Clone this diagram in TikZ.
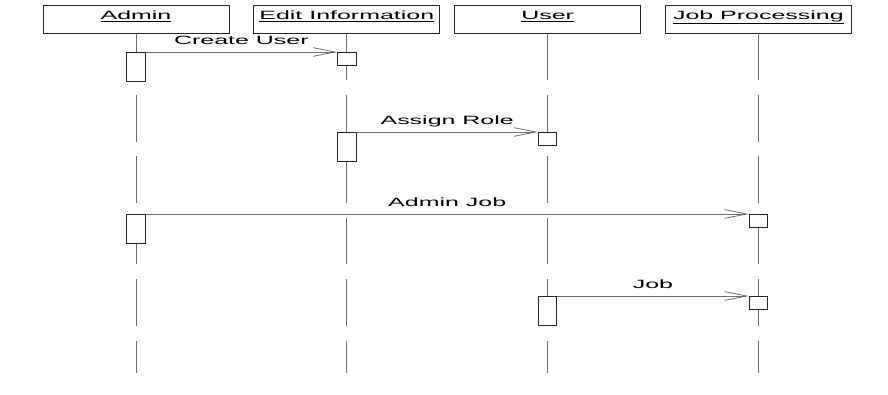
\documentclass[tikz,border=0pt]{standalone}
\usepackage{fontspec}
\setsansfont{Liberation Sans}
\usepackage{tikz}
\usetikzlibrary{positioning, arrows.meta}

\newcommand{\wtext}[1]{\scalebox{2.08}[1]{#1}}

\begin{document}
\begin{tikzpicture}[
  x=0.75pt, y=-0.75pt,
  font=\sffamily\fontsize{9}{11}\selectfont,
  head/.style={draw=black!85, line width=0.6pt, minimum width=139.5pt,
    inner sep=0pt, text height=10.5pt, text depth=10.5pt},
  life/.style={draw=gray!85!black, line width=0.6pt, dash pattern=on 35pt off 11.1pt},
  act/.style={draw=black!85, fill=white, line width=0.6pt, anchor=north,
    minimum width=13.9pt, inner sep=0pt},
  send/.style={act, minimum height=21.4pt},
  recv/.style={act, minimum height=10.1pt},
  msg/.style={draw=gray!85!black, line width=0.6pt,
    -{Straight Barb[length=16.5pt, width=6.5pt]}},
  lbl/.style={midway, above=5.2pt, inner sep=0pt, text depth=0pt},
]
  \useasboundingbox (0,0) rectangle (888,394);

  % heads
  \node[head] (admin) at (136,19) {\wtext{\underline{Admin}}};
  \node[head, right=18pt of admin] (edit) {\wtext{\underline{Edit Information}}};
  \node[head, right=10.5pt of edit] (user) {\wtext{\underline{User}}};
  \node[head, right=18pt of user] (job) {\wtext{\underline{Job Processing}}};

  % message rows and end of the lifelines
  \coordinate (m1) at (0,52);
  \coordinate (m2) at (0,132);
  \coordinate (m3) at (0,214);
  \coordinate (m4) at (0,296);
  \coordinate (end) at (0,373);

  \foreach \h in {admin, edit, user, job} \draw[life] (\h.south) -- (\h.south |- end);

  % activations
  \node[send] (a1) at (admin |- m1) {};
  \node[recv] (e1) at (edit |- m1) {};
  \node[send] (e2) at (edit |- m2) {};
  \node[recv] (u2) at (user |- m2) {};
  \node[send] (a3) at (admin |- m3) {};
  \node[recv] (j3) at (job |- m3) {};
  \node[send] (u4) at (user |- m4) {};
  \node[recv] (j4) at (job |- m4) {};

  \foreach \s/\r/\t in {a1/e1/Create User, e2/u2/Assign Role, a3/j3/Admin Job, u4/j4/Job}
    \draw[msg] (\s.north east) -- (\r.north west) node[lbl] {\wtext{\t}};
\end{tikzpicture}
\end{document}
